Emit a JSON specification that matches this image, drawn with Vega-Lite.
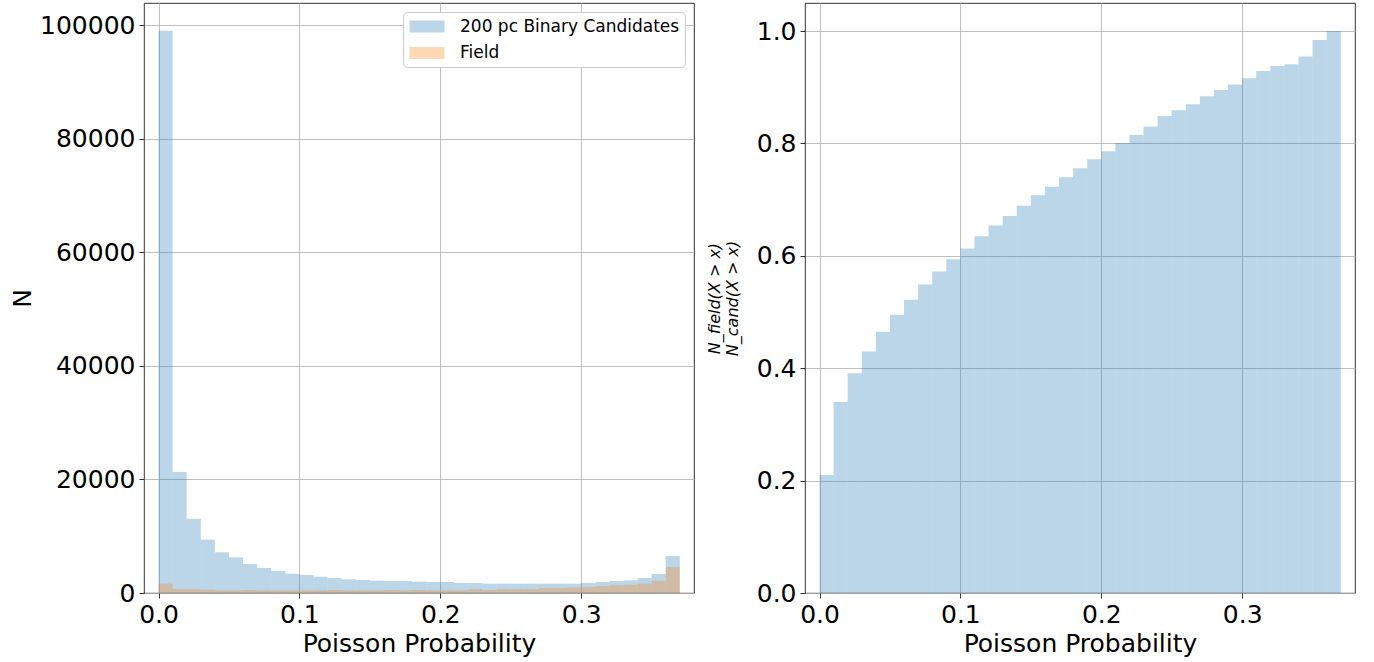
{
  "$schema": "https://vega.github.io/schema/vega-lite/v6.json",
  "background": "white",
  "padding": {"left": 10, "top": 2, "right": 5, "bottom": 5},
  "config": {
    "font": "DejaVu Sans",
    "view": {"stroke": "black", "strokeWidth": 0.8},
    "axis": {
      "domain": false,
      "tickColor": "black",
      "tickSize": 5,
      "tickWidth": 0.8,
      "labelColor": "black",
      "labelFontSize": 25,
      "labelFont": "DejaVu Sans",
      "labelPadding": 4,
      "titleFontSize": 25,
      "titleFont": "DejaVu Sans",
      "titleFontWeight": "normal",
      "titleColor": "black",
      "gridColor": "#b0b0b0",
      "gridWidth": 0.8,
      "zindex": 1,
      "labelFlush": false,
      "labelOverlap": false
    },
    "legend": {
      "labelFontSize": 17,
      "labelFont": "DejaVu Sans",
      "labelColor": "black",
      "labelLimit": 0,
      "symbolType": "M-2,-0.7H2V0.7H-2Z",
      "symbolSize": 306,
      "symbolOpacity": 0.3,
      "symbolStrokeWidth": 0,
      "symbolOffset": 9.5,
      "strokeColor": "#cccccc",
      "fillColor": "white",
      "cornerRadius": 4,
      "padding": 5.5,
      "rowPadding": 9.5,
      "labelOffset": 24
    }
  },
  "data": {
    "values": [
      {"lo": 0.00, "hi": 0.01, "cand": 99000, "field": 1640, "ratio": 0.210},
      {"lo": 0.01, "hi": 0.02, "cand": 21300, "field": 700, "ratio": 0.340},
      {"lo": 0.02, "hi": 0.03, "cand": 13090, "field": 700, "ratio": 0.391},
      {"lo": 0.03, "hi": 0.04, "cand": 9390, "field": 590, "ratio": 0.430},
      {"lo": 0.04, "hi": 0.05, "cand": 7160, "field": 470, "ratio": 0.465},
      {"lo": 0.05, "hi": 0.06, "cand": 6280, "field": 470, "ratio": 0.495},
      {"lo": 0.06, "hi": 0.07, "cand": 5110, "field": 530, "ratio": 0.522},
      {"lo": 0.07, "hi": 0.08, "cand": 4400, "field": 470, "ratio": 0.549},
      {"lo": 0.08, "hi": 0.09, "cand": 3870, "field": 470, "ratio": 0.572},
      {"lo": 0.09, "hi": 0.10, "cand": 3400, "field": 470, "ratio": 0.594},
      {"lo": 0.10, "hi": 0.11, "cand": 3170, "field": 470, "ratio": 0.613},
      {"lo": 0.11, "hi": 0.12, "cand": 2870, "field": 470, "ratio": 0.635},
      {"lo": 0.12, "hi": 0.13, "cand": 2640, "field": 530, "ratio": 0.654},
      {"lo": 0.13, "hi": 0.14, "cand": 2410, "field": 470, "ratio": 0.671},
      {"lo": 0.14, "hi": 0.15, "cand": 2290, "field": 470, "ratio": 0.689},
      {"lo": 0.15, "hi": 0.16, "cand": 2170, "field": 470, "ratio": 0.708},
      {"lo": 0.16, "hi": 0.17, "cand": 2110, "field": 530, "ratio": 0.723},
      {"lo": 0.17, "hi": 0.18, "cand": 2110, "field": 470, "ratio": 0.740},
      {"lo": 0.18, "hi": 0.19, "cand": 1990, "field": 530, "ratio": 0.756},
      {"lo": 0.19, "hi": 0.20, "cand": 1940, "field": 470, "ratio": 0.772},
      {"lo": 0.20, "hi": 0.21, "cand": 1940, "field": 470, "ratio": 0.786},
      {"lo": 0.21, "hi": 0.22, "cand": 1760, "field": 470, "ratio": 0.801},
      {"lo": 0.22, "hi": 0.23, "cand": 1760, "field": 700, "ratio": 0.815},
      {"lo": 0.23, "hi": 0.24, "cand": 1640, "field": 530, "ratio": 0.830},
      {"lo": 0.24, "hi": 0.25, "cand": 1640, "field": 700, "ratio": 0.849},
      {"lo": 0.25, "hi": 0.26, "cand": 1640, "field": 700, "ratio": 0.859},
      {"lo": 0.26, "hi": 0.27, "cand": 1640, "field": 700, "ratio": 0.870},
      {"lo": 0.27, "hi": 0.28, "cand": 1640, "field": 880, "ratio": 0.884},
      {"lo": 0.28, "hi": 0.29, "cand": 1640, "field": 880, "ratio": 0.895},
      {"lo": 0.29, "hi": 0.30, "cand": 1640, "field": 1000, "ratio": 0.905},
      {"lo": 0.30, "hi": 0.31, "cand": 1760, "field": 1060, "ratio": 0.916},
      {"lo": 0.31, "hi": 0.32, "cand": 1940, "field": 1230, "ratio": 0.929},
      {"lo": 0.32, "hi": 0.33, "cand": 2110, "field": 1350, "ratio": 0.938},
      {"lo": 0.33, "hi": 0.34, "cand": 2230, "field": 1470, "ratio": 0.941},
      {"lo": 0.34, "hi": 0.35, "cand": 2640, "field": 1640, "ratio": 0.955},
      {"lo": 0.35, "hi": 0.36, "cand": 3350, "field": 2170, "ratio": 0.984},
      {"lo": 0.36, "hi": 0.37, "cand": 6510, "field": 4580, "ratio": 1.000}
    ]
  },
  "bounds": "flush",
  "spacing": 111,
  "resolve": {"scale": {"color": "independent"}, "legend": {"color": "independent"}},
  "hconcat": [
    {
      "width": 550,
      "height": 590,
      "encoding": {
        "x": {"field": "lo", "type": "quantitative",
              "scale": {"domain": [-0.0103, 0.3801], "nice": false, "zero": false},
              "axis": {"values": [0, 0.1, 0.2, 0.3], "format": ".1f", "title": "Poisson Probability", "titlePadding": 4}},
        "x2": {"field": "hi"}
      },
      "layer": [
        {
          "mark": {"type": "bar", "opacity": 0.3},
          "encoding": {
            "y": {"field": "cand", "type": "quantitative",
                  "scale": {"domain": [0, 103900], "nice": false},
                  "axis": {"values": [0, 20000, 40000, 60000, 80000, 100000], "format": "d", "title": "N", "titlePadding": 4}},
            "y2": {"datum": 0},
            "color": {"datum": "200 pc Binary Candidates", "type": "nominal",
                      "scale": {"domain": ["200 pc Binary Candidates", "Field"], "range": ["#1f77b4", "#ff7f0e"]},
                      "legend": {"title": null, "orient": "top-right", "offset": 9}}
          }
        },
        {
          "mark": {"type": "bar", "opacity": 0.3},
          "encoding": {
            "y": {"field": "field", "type": "quantitative"},
            "y2": {"datum": 0},
            "color": {"datum": "Field", "type": "nominal"}
          }
        }
      ]
    },
    {
      "width": 550,
      "height": 590,
      "mark": {"type": "bar", "opacity": 0.3, "color": "#1f77b4"},
      "encoding": {
        "x": {"field": "lo", "type": "quantitative",
              "scale": {"domain": [-0.0103, 0.3801], "nice": false, "zero": false},
              "axis": {"values": [0, 0.1, 0.2, 0.3], "format": ".1f", "title": "Poisson Probability", "titlePadding": 4}},
        "x2": {"field": "hi"},
        "y": {"field": "ratio", "type": "quantitative",
              "scale": {"domain": [0, 1.05], "nice": false},
              "axis": {"values": [0, 0.2, 0.4, 0.6, 0.8, 1.0], "format": ".1f",
                       "title": ["N_field(X > x)", "N_cand(X > x)"],
                       "titleFontSize": 16, "titleFontStyle": "italic", "titlePadding": 16}},
        "y2": {"datum": 0}
      }
    }
  ]
}
